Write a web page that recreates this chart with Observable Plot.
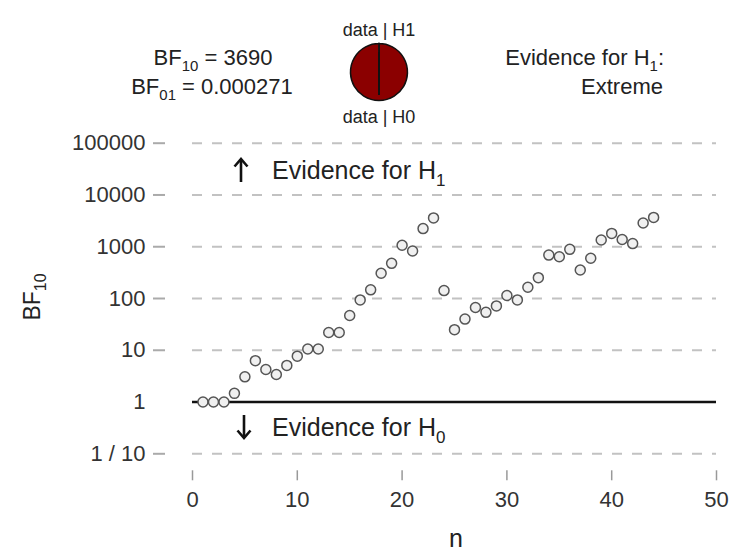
<!DOCTYPE html>
<html>
<head>
<meta charset="utf-8">
<script src="https://cdn.jsdelivr.net/npm/d3@7"></script>
<script src="https://cdn.jsdelivr.net/npm/@observablehq/plot@0.6"></script>
<style>
  html, body { margin: 0; padding: 0; background: #fff; }
  #chart { width: 729px; height: 551px; overflow: hidden; }
</style>
</head>
<body>
<div id="chart"></div>
<script>
// --- data -------------------------------------------------------------
const nValues = [1,2,3,4,5,6,7,8,9,10,11,12,13,14,15,16,17,18,19,20,21,22,
                 23,24,25,26,27,28,29,30,31,32,33,34,35,36,37,38,39,40,41,42,43,44];
const bf10Values = [1, 1, 1, 1.47, 3.07, 6.3, 4.25, 3.4, 5.1, 7.7, 10.6, 10.6,
                    22, 22, 47, 94, 147, 307, 478, 1070, 826, 2240, 3600, 142,
                    25, 40, 67, 54, 72, 114, 94, 165, 253, 690, 640, 890,
                    356, 600, 1350, 1810, 1380, 1150, 2880, 3690];
const xTicks = [0, 10, 20, 30, 40, 50];
const yTicks = [0.1, 1, 10, 100, 1000, 10000, 100000];
const yTickLabels = ["1 / 10", "1", "10", "100", "1000", "10000", "100000"];
const yTickMarks = [0.1, 10, 100, 1000, 10000, 100000];
const gridValues = [0.1, 10, 100, 1000, 10000, 100000];
const bf10Final = "3690";
const bf01Final = "0.000271";
const evidenceCategory = "Extreme";
const pieShares = [{label: "data | H1", value: 3690}, {label: "data | H0", value: 1}];

const points = nValues.map((n, i) => ({n, bf: bf10Values[i]}));
const labelOf = new Map(yTicks.map((v, i) => [v, yTickLabels[i]]));

const font = "'Liberation Sans', Arial, Helvetica, sans-serif";

const chart = Plot.plot({
  width: 729,
  height: 551,
  marginLeft: 192,
  marginRight: 13,
  marginTop: 142.7,
  marginBottom: 97.7,
  style: {fontFamily: font, background: "#fff", overflow: "visible"},
  x: {domain: [0, 50], label: null},
  y: {type: "log", domain: [0.1, 100000], label: null},
  marks: [
    Plot.ruleY(gridValues, {stroke: "#c2c2c2", strokeWidth: 2, strokeDasharray: "10,10"}),
    Plot.ruleY([1], {stroke: "#111", strokeWidth: 2.5}),
    Plot.axisY(yTickMarks, {tickSize: 12, dx: -27, stroke: "#aaa", strokeWidth: 2, fill: "none", label: null}),
    Plot.axisY(yTicks, {tickSize: 0, tickPadding: 47, tickFormat: d => labelOf.get(d),
                        fontSize: 22, fill: "#333", label: null}),
    Plot.axisX(xTicks, {tickSize: 10, dy: 17, tickPadding: 11, stroke: "#999", strokeWidth: 1.5,
                        fontSize: 22, fill: "#333", label: null}),
    Plot.dot(points, {x: "n", y: "bf", r: 5, stroke: "#555", fill: "#f0f0f0", strokeWidth: 1.5})
  ]
});

document.getElementById("chart").appendChild(chart);

// --- annotations -------------------------------------------------------
const svg = d3.select(chart);
const g = svg.append("g").attr("font-family", font).attr("fill", "#222");

function subText(x, y, anchor, size, parts) {
  const t = g.append("text").attr("x", x).attr("y", y)
    .attr("text-anchor", anchor).attr("font-size", size);
  let shift = 0;
  for (const p of parts) {
    const s = t.append("tspan").text(p.t);
    const target = p.sub ? size * 0.28 : 0;
    s.attr("dy", target - shift);
    shift = target;
    if (p.sub) s.attr("font-size", size * 0.68);
  }
  return t;
}

subText(213, 65, "middle", 22, [{t: "BF"}, {t: "10", sub: true}, {t: " = " + bf10Final}]);
subText(212, 94, "middle", 22, [{t: "BF"}, {t: "01", sub: true}, {t: " = " + bf01Final}]);
subText(664, 65, "end", 22, [{t: "Evidence for H"}, {t: "1", sub: true}, {t: ":"}]);
g.append("text").attr("x", 663).attr("y", 94).attr("text-anchor", "end")
  .attr("font-size", 22).text(evidenceCategory);

// pie
const cx = 379, cy = 72, R = 28.5;
g.append("text").attr("x", cx).attr("y", 35.5).attr("text-anchor", "middle")
  .attr("font-size", 18).text(pieShares[0].label);
g.append("text").attr("x", cx).attr("y", 123).attr("text-anchor", "middle")
  .attr("font-size", 18).text(pieShares[1].label);
const pie = d3.pie().sort(null).value(d => d.value)(pieShares);
const arc = d3.arc().innerRadius(0).outerRadius(R);
const pg = svg.append("g").attr("transform", `translate(${cx},${cy})`);
pg.selectAll("path").data(pie).join("path")
  .attr("d", arc)
  .attr("fill", (d, i) => i === 0 ? "#8b0000" : "#fff")
  .attr("stroke", "#111").attr("stroke-width", 1.5);
pg.append("line").attr("x1", 0).attr("x2", 0).attr("y1", -20).attr("y2", 23)
  .attr("stroke", "#111").attr("stroke-width", 2);

// evidence arrows (drawn as strokes so they are as heavy as in the reference)
function arrow(x, yTail, yHead) {
  const dir = yHead < yTail ? 1 : -1;
  const a = svg.append("g").attr("stroke", "#111").attr("stroke-width", 2.6)
    .attr("fill", "none").attr("stroke-linecap", "butt");
  a.append("line").attr("x1", x).attr("x2", x).attr("y1", yTail).attr("y2", yHead + dir * 1);
  a.append("path").attr("d", `M${x - 6.5},${yHead + dir * 7.5} L${x},${yHead} L${x + 6.5},${yHead + dir * 7.5}`)
    .attr("stroke-linejoin", "miter");
}
arrow(241, 182, 159);
subText(272, 179, "start", 25, [{t: "Evidence for H"}, {t: "1", sub: true}]);
arrow(244, 415, 438);
subText(272, 436, "start", 25, [{t: "Evidence for H"}, {t: "0", sub: true}]);

// axis titles
const yl = g.append("text").attr("transform", "translate(40,297) rotate(-90)")
  .attr("text-anchor", "middle").attr("font-size", 23);
yl.append("tspan").text("BF");
yl.append("tspan").text("10").attr("font-size", 16).attr("dy", 6);
g.append("text").attr("x", 456).attr("y", 547).attr("text-anchor", "middle")
  .attr("font-size", 25).text("n");
</script>
</body>
</html>
